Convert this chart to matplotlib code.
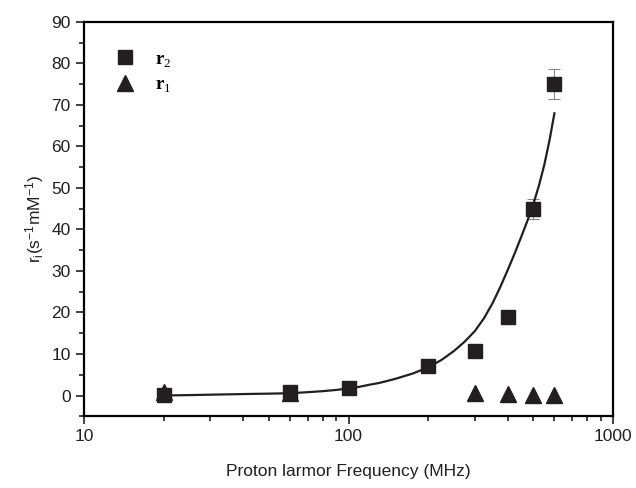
import numpy as np
import matplotlib.pyplot as plt

plt.rcParams['font.family'] = ['Liberation Sans', 'DejaVu Sans']
plt.rcParams['mathtext.fontset'] = 'custom'
plt.rcParams['mathtext.rm'] = 'Liberation Sans'
plt.rcParams['mathtext.it'] = 'Liberation Sans'

# r2 data
freq_r2 = [20, 60, 100, 200, 300, 400, 500, 600]
r2 = [0.2, 0.8, 1.8, 7.0, 10.7, 19.0, 45.0, 75.0]
r2_err = [0, 0, 0, 0, 0, 0, 2.4, 3.6]

# r1 data
freq_r1 = [20, 60, 300, 400, 500, 600]
r1 = [0.8, 0.6, 0.5, 0.4, 0.1, 0.1]

# fitted curve
freq_fit = [20, 25, 30, 40, 50, 60, 70, 80, 90, 100, 110, 120, 130, 140, 150, 175, 200,
            225, 250, 275, 300, 325, 350, 375, 400, 425, 450, 475, 500, 525, 550, 575, 600]
r_fit = [0.0, 0.1, 0.2, 0.35, 0.45, 0.55, 0.8, 1.05, 1.35, 1.7, 2.1, 2.6, 3.0, 3.5, 4.0, 5.3, 6.8,
         8.6, 10.7, 13.0, 15.5, 18.6, 22.2, 26.2, 30.3, 34.3, 38.3, 42.2, 46.2, 50.7, 55.7, 61.5, 68.0]

dark = '#231f20'

fig = plt.figure(figsize=(6.36, 4.88), dpi=100)
ax = fig.add_axes([0.132, 0.147, 0.832, 0.808])

ax.plot(freq_fit, r_fit, color=dark, lw=1.6, zorder=2)
ax.errorbar(freq_r2, r2, yerr=r2_err, fmt='none', ecolor='#888888', elinewidth=0.8, capsize=4, capthick=0.8, zorder=1)
ax.plot(freq_r2, r2, 's', color=dark, ms=9.5, zorder=3, label='r$_2$')
ax.plot(freq_r1, r1, '^', color=dark, ms=11, zorder=3, label='r$_1$')

ax.set_xscale('log')
ax.set_xlim(10, 1000)
ax.set_ylim(-5, 90)
ax.set_yticks(np.arange(0, 91, 10))
ax.set_yticks(np.arange(-5, 91, 5), minor=True)
ax.set_xticks([10, 100, 1000])
ax.set_xticklabels(['10', '100', '1000'])

for s in ax.spines.values():
    s.set_linewidth(1.6)
ax.tick_params(which='both', direction='out', top=False, right=False, labelsize=12.5, width=1.2, colors='#231f20')
ax.tick_params(which='major', length=6)
ax.tick_params(which='minor', length=3.5)
ax.tick_params(axis='x', which='minor', labelbottom=False)

ax.set_xlabel('Proton larmor Frequency (MHz)', fontsize=12.5, labelpad=14, color='#231f20')
ax.set_ylabel(r'r$_\mathregular{i}$(s$^\mathregular{-1}$mM$^\mathregular{-1}$)', fontsize=12.5, labelpad=4, color='#231f20')

plt.rcParams['mathtext.rm'] = 'Liberation Serif'
leg = ax.legend(loc='upper left', frameon=False, bbox_to_anchor=(0.02, 0.97),
                prop={'family': 'Liberation Serif', 'weight': 'bold', 'size': 13.5},
                handletextpad=0.8, labelspacing=0.4, handlelength=1.5)

fig.savefig('out.png', dpi=100)
